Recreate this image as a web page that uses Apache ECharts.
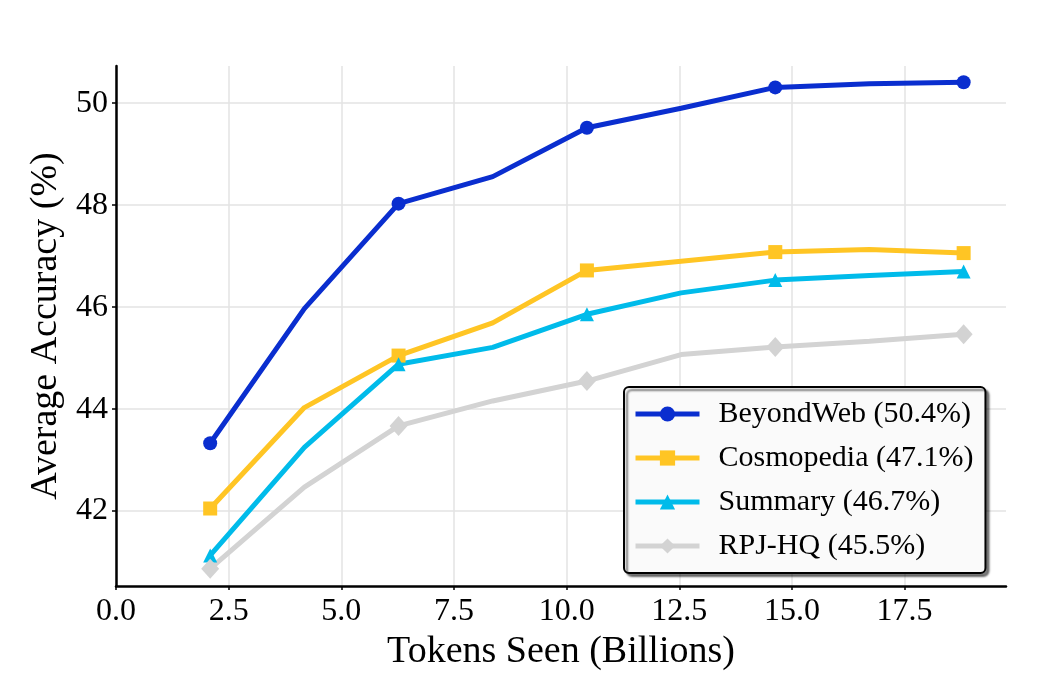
<!DOCTYPE html>
<html>
<head>
<meta charset="utf-8">
<title>Average Accuracy vs Tokens Seen</title>
<script src="https://cdn.jsdelivr.net/npm/echarts@6/dist/echarts.min.js"></script>
<style>
  html, body { margin: 0; padding: 0; background: #fff; }
  #chart { width: 1040px; height: 686px; }
</style>
</head>
<body>
<div id="chart"></div>
<script>
// data
var tokens = [2.09, 4.18, 6.27, 8.36, 10.45, 12.54, 14.63, 16.72, 18.81];
var beyondWeb = [43.33, 45.97, 48.03, 48.56, 49.52, 49.90, 50.31, 50.38, 50.41];
var cosmopedia = [42.05, 44.03, 45.05, 45.69, 46.72, 46.90, 47.08, 47.13, 47.06];
var summary = [41.13, 43.25, 44.88, 45.21, 45.86, 46.28, 46.53, 46.62, 46.70];
var rpjHq = [40.87, 42.47, 43.67, 44.16, 44.55, 45.07, 45.22, 45.33, 45.47];
var seriesNames = ['BeyondWeb (50.4%)', 'Cosmopedia (47.1%)', 'Summary (46.7%)', 'RPJ-HQ (45.5%)'];
var xTicks = [0, 2.5, 5, 7.5, 10, 12.5, 15, 17.5];
var yTicks = [42, 44, 46, 48, 50];

var FONT = '"Liberation Serif", "DejaVu Serif", serif';

var chart = echarts.init(document.getElementById('chart'));

// markers only on every other point
function buildData(values, symbol) {
  return values.map(function (v, i) {
    return { value: [tokens[i], v], symbol: i % 2 === 0 ? symbol : 'none' };
  });
}

function makeSeries(name, values, color, symbol, size) {
  return {
    name: name,
    type: 'line',
    data: buildData(values, symbol),
    symbol: symbol,
    symbolSize: size,
    showAllSymbol: true,
    color: color,
    lineStyle: { width: 5, color: color },
    itemStyle: { color: color },
    emphasis: { disabled: true }
  };
}

var option = {
  animation: false,
  grid: { left: 116, right: 34, top: 66, bottom: 100 },
  xAxis: {
    type: 'value',
    min: 0,
    max: 19.75,
    name: 'Tokens Seen (Billions)',
    nameLocation: 'middle',
    nameGap: 46,
    nameTextStyle: { fontFamily: FONT, fontSize: 38, color: '#000' },
    axisLine: { show: true, onZero: false, lineStyle: { color: '#000', width: 2.5 } },
    axisTick: { show: true, length: 4, customValues: xTicks, lineStyle: { color: '#000', width: 1.5 } },
    axisLabel: {
      customValues: xTicks,
      fontFamily: FONT, fontSize: 32, color: '#000', margin: 10,
      formatter: function (v) { return v.toFixed(1); }
    },
    splitLine: { show: true, lineStyle: { color: '#e3e3e3', width: 1.5 } }
  },
  yAxis: {
    type: 'value',
    min: 40.53,
    max: 50.73,
    name: 'Average Accuracy (%)',
    nameLocation: 'middle',
    nameGap: 45,
    nameTextStyle: { fontFamily: FONT, fontSize: 38, color: '#000' },
    axisLine: { show: true, onZero: false, lineStyle: { color: '#000', width: 2.5 } },
    axisTick: { show: true, length: 4, customValues: yTicks, lineStyle: { color: '#000', width: 1.5 } },
    axisLabel: {
      customValues: yTicks,
      fontFamily: FONT, fontSize: 32, color: '#000', margin: 8
    },
    splitLine: { show: true, lineStyle: { color: '#e3e3e3', width: 1.5 } }
  },
  legend: {
    data: seriesNames,
    orient: 'vertical',
    left: 624,
    top: 387,
    itemWidth: 64,
    itemHeight: 19,
    itemGap: 14,
    padding: [12, 12, 12, 9],
    backgroundColor: '#fafafa',
    borderColor: '#000',
    borderWidth: 2,
    borderRadius: 5,
    shadowColor: 'rgba(0,0,0,0.5)',
    shadowOffsetX: 3,
    shadowOffsetY: 3,
    shadowBlur: 2,
    lineStyle: { width: 5 },
    textStyle: { fontFamily: FONT, fontSize: 30, color: '#000', lineHeight: 30, padding: [0, 0, 0, 14] }
  },
  series: [
    makeSeries(seriesNames[0], beyondWeb, '#0a2ecf', 'circle', 14),
    makeSeries(seriesNames[1], cosmopedia, '#ffc524', 'rect', 14),
    makeSeries(seriesNames[2], summary, '#00bbea', 'triangle', 14),
    makeSeries(seriesNames[3], rpjHq, '#d3d3d3', 'diamond', [18, 20])
  ]
};

chart.setOption(option);
</script>
</body>
</html>
